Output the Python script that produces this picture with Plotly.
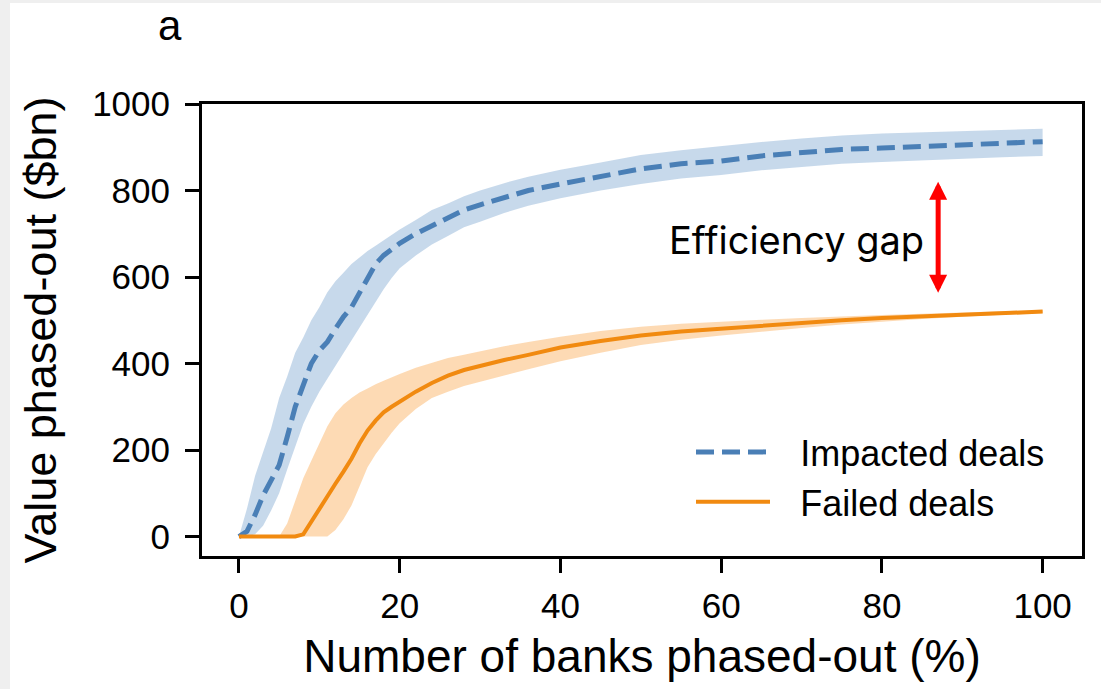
import plotly.graph_objects as go

# Share of banks phased out (%)
pct_banks = [0, 1, 2, 3, 4, 5, 6, 7, 8, 9, 10, 11, 12, 13, 14, 15, 16, 17, 18, 19, 20,
             22, 24, 26, 28, 30, 33, 36, 40, 45, 50, 55, 60, 65, 70, 75, 80, 85, 90, 95, 100]

# Impacted deals: mean and spread ($bn)
impacted_mean = [0, 12, 50, 95, 130, 165, 230, 300, 350, 400, 430, 450, 480, 508, 530, 565, 595, 630, 650, 665, 678,
                 700, 718, 735, 755, 767, 785, 800, 815, 832, 850, 862, 868, 880, 887, 895, 898, 902, 907, 910, 913]
impacted_high = [0, 65, 140, 195, 250, 320, 370, 425, 460, 500, 530, 565, 590, 610, 630, 645, 660, 672, 685, 697, 710,
                 732, 755, 770, 787, 800, 817, 832, 848, 865, 882, 893, 903, 912, 920, 927, 932, 935, 938, 941, 943]
impacted_low = [0, 0, 5, 25, 60, 100, 155, 210, 260, 300, 335, 365, 395, 425, 455, 485, 512, 542, 572, 598, 620,
                650, 675, 695, 715, 728, 748, 765, 782, 800, 815, 828, 836, 847, 855, 862, 866, 870, 874, 877, 880]

# Failed deals: mean and spread ($bn)
failed_mean = [0, 0, 0, 0, 0, 0, 0, 0, 5, 35, 65, 95, 122, 150, 180, 215, 245, 268, 287, 300, 312,
               335, 355, 372, 385, 395, 408, 420, 437, 452, 465, 474, 481, 488, 494, 500, 505, 509, 513, 517, 520]
failed_high = [0, 0, 0, 0, 0, 0, 30, 85, 135, 175, 215, 255, 285, 305, 320, 333, 342, 352, 360, 368, 376,
               390, 402, 413, 420, 428, 440, 450, 462, 475, 485, 492, 497, 501, 505, 509, 512, 515, 518, 521, 524]
failed_low = [0, 0, 0, 0, 0, 0, 0, 0, 0, 0, 0, 0, 15, 40, 72, 115, 160, 190, 215, 240, 262,
              295, 320, 335, 348, 358, 372, 387, 405, 425, 443, 455, 465, 474, 482, 490, 497, 503, 508, 513, 516]

x_ticks = [0, 20, 40, 60, 80, 100]
y_ticks = [0, 200, 400, 600, 800, 1000]

BLUE = "#4a7fb6"
BLUE_BAND = "rgba(70,130,190,0.30)"
ORANGE = "#f18a10"
ORANGE_BAND = "rgba(250,150,40,0.35)"
FONT = "Liberation Sans, Arial, sans-serif"

fig = go.Figure()

# uncertainty bands
fig.add_trace(go.Scatter(x=pct_banks, y=impacted_low, mode="lines", line=dict(width=0),
                         showlegend=False, hoverinfo="skip"))
fig.add_trace(go.Scatter(x=pct_banks, y=impacted_high, mode="lines", line=dict(width=0),
                         fill="tonexty", fillcolor=BLUE_BAND, showlegend=False, hoverinfo="skip"))
fig.add_trace(go.Scatter(x=pct_banks, y=failed_low, mode="lines", line=dict(width=0),
                         showlegend=False, hoverinfo="skip"))
fig.add_trace(go.Scatter(x=pct_banks, y=failed_high, mode="lines", line=dict(width=0),
                         fill="tonexty", fillcolor=ORANGE_BAND, showlegend=False, hoverinfo="skip"))

# mean curves
fig.add_trace(go.Scatter(x=pct_banks, y=impacted_mean, mode="lines", name="\u2002\u2009Impacted deals",
                         legendgroup="impacted", line=dict(color=BLUE, width=5, dash="18px,8px")))
fig.add_trace(go.Scatter(x=pct_banks, y=failed_mean, mode="lines", name="\u2002\u2009Failed deals",
                         legendgroup="failed", line=dict(color=ORANGE, width=4)))

# double-headed arrow marking the gap
fig.add_annotation(x=87, y=820, ax=87, ay=560, xref="x", yref="y", axref="x", ayref="y",
                   text="", showarrow=True, arrowhead=2, startarrowhead=2, arrowside="end+start",
                   arrowsize=0.72, startarrowsize=0.72, arrowwidth=5, arrowcolor="#ff0000")
fig.add_annotation(x=69.4, y=686, xref="x", yref="y", text="Efficiency gap", showarrow=False,
                   font=dict(family="Inter, Lato, sans-serif", size=38, color="black"),
                   xanchor="center", yanchor="middle")

L, R, T, B = 202, 19, 104, 133
W, H = 1101, 689
pw, ph = W - L - R, H - T - B

# panel letter
fig.add_annotation(x=(170 - L) / pw, y=(H - B - 1) / ph, xref="paper", yref="paper", text="a",
                   showarrow=False, font=dict(family=FONT, size=42, color="black"),
                   xanchor="center", yanchor="top", borderpad=0)

# white page on a light grey surround
fig.add_shape(type="rect", xref="paper", yref="paper", layer="below",
              x0=(10 - L) / pw, x1=(W - L) / pw, y0=-B / ph, y1=(H - B - 3) / ph,
              fillcolor="white", line=dict(width=0))

axis_common = dict(showgrid=False, zeroline=False, showline=True, linecolor="black", linewidth=3,
                   mirror=True, ticks="outside", ticklen=14, tickwidth=3, tickcolor="black",
                   tickfont=dict(family=FONT, size=35, color="black"))

fig.update_xaxes(range=[-4.6, 104.9], tickvals=x_ticks, ticktext=[str(v) for v in x_ticks],
                 title=dict(text="Number of banks phased-out (%)", font=dict(family=FONT, size=46, color="black"),
                            standoff=16),
                 ticklabelstandoff=3, **axis_common)
fig.update_yaxes(range=[-45, 1000], tickvals=y_ticks, ticktext=[str(v) for v in y_ticks],
                 title=dict(text="Value phased-out ($bn)", font=dict(family=FONT, size=45, color="black"),
                            standoff=22),
                 ticklabelstandoff=8, **axis_common)

fig.update_layout(
    width=W, height=H,
    margin=dict(l=L, r=R, t=T, b=B, autoexpand=False),
    paper_bgcolor="#efefef", plot_bgcolor="white",
    legend=dict(x=(691 - L) / pw, y=(H - B - 422) / ph, xanchor="left", yanchor="top",
                bgcolor="rgba(255,255,255,0)", traceorder="normal",
                font=dict(family=FONT, size=36, color="black"), itemwidth=74, tracegroupgap=9),
)

fig.write_html("out.html")
